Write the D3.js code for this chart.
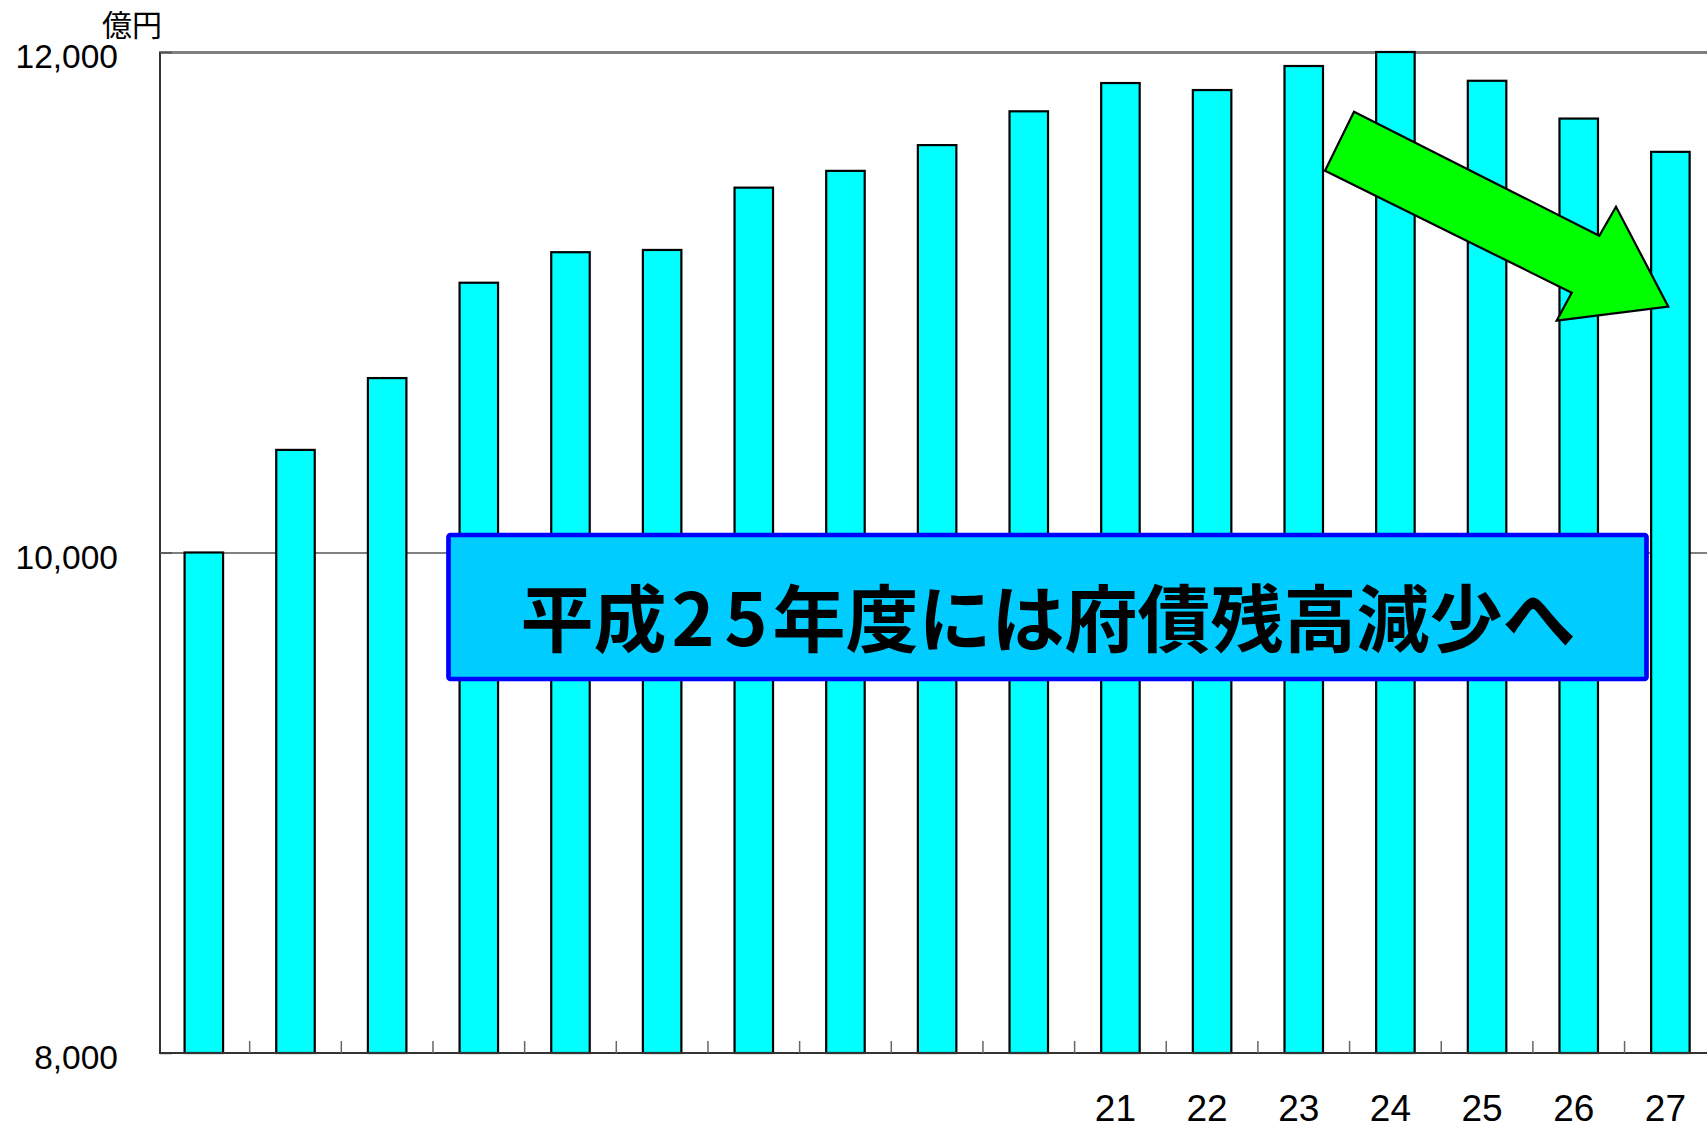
<!DOCTYPE html>
<html lang="ja">
<head>
<meta charset="utf-8">
<script src="https://cdn.jsdelivr.net/npm/d3@7"></script>
<style>
  html, body { margin: 0; padding: 0; background: #fff; }
  svg { display: block; }
</style>
</head>
<body>
<svg id="chart" width="1707" height="1125"></svg>
<script>
// 府債残高（億円）平成11〜27年度
const categories = ['11', '12', '13', '14', '15', '16', '17', '18', '19', '20', '21', '22', '23', '24', '25', '26', '27'];
const tickLabels = ['', '', '', '', '', '', '', '', '', '', '21', '22', '23', '24', '25', '26', '27'];
const balances = [10000, 10410, 10697, 11078, 11200, 11209, 11458, 11525, 11628, 11763, 11876, 11848, 11944, 12000, 11885, 11734, 11601];
const yTicks = [8000, 10000, 12000];
const unitLabel = '億円';
// message split so the year digits can be set narrow, as in the original
const messageParts = [
  { text: '平成', dx: 0 },
  { text: '2', dx: 5 },
  { text: '5', dx: 10 },
  { text: '年度には府債残高減少へ', dx: 5 },
];

const width = 1707;
const plot = { left: 158, top: 52, bottom: 1053, step: 91.66 };

const svg = d3.select('#chart');

const x = d3.scaleBand()
  .domain(categories)
  .range([plot.left, plot.left + plot.step * categories.length]);

const y = d3.scaleLinear()
  .domain([8000, 12000])
  .range([plot.bottom, plot.top]);

const barWidth = x.bandwidth() * 0.42;

/*
Horizontal grid lines, drawn first so that the bars cover them.
*/
const grid = svg.append('g')
  .attr('transform', `translate(${plot.left + 1},0)`)
  .call(d3.axisRight(y).tickValues(yTicks.slice(1)).tickSize(width - plot.left).tickFormat(''));

grid.select('path').attr('stroke-width', 0);
grid.selectAll('.tick line')
  .attr('stroke', '#808080')
  .attr('stroke-width', d => (d === 12000 ? 2.5 : 1.2))
  .attr('shape-rendering', 'crispEdges');

// bars
svg.append('g')
  .selectAll('rect')
  .data(balances)
  .join('rect')
  .attr('x', (d, i) => x(categories[i]) + (x.bandwidth() - barWidth) / 2)
  .attr('y', d => y(d))
  .attr('width', barWidth)
  .attr('height', d => y(8000) - y(d))
  .attr('fill', '#00ffff')
  .attr('stroke', '#000')
  .attr('stroke-width', 2.2);

/*
Left axis: short inward ticks, labels on the left.
*/
const axisY = svg.append('g')
  .attr('transform', 'translate(160,0)')
  .call(d3.axisLeft(y).tickValues(yTicks).tickSize(-12).tickPadding(42).tickFormat(d3.format(',')));

axisY.select('path')
  .attr('d', `M0,${plot.top}V${plot.bottom}`)
  .attr('stroke', '#333')
  .attr('stroke-width', 2);
axisY.selectAll('.tick line')
  .attr('stroke', '#555')
  .attr('stroke-width', 1.5);
axisY.selectAll('.tick text')
  .attr('dy', 15.5)
  .attr('fill', '#000')
  .style('font-family', '"Liberation Sans", Arial, sans-serif')
  .style('font-size', '33.5px');

/*
Bottom axis: ticks sit on the category boundaries, labels on the centres.
*/
const axisX = svg.append('g')
  .attr('transform', `translate(0,${plot.bottom})`)
  .call(d3.axisBottom(x).tickSize(0).tickPadding(0).tickFormat((d, i) => tickLabels[i]));

axisX.select('path')
  .attr('d', `M${plot.left + 1},0H${width}`)
  .attr('stroke', '#333')
  .attr('stroke-width', 2);
axisX.selectAll('.tick text')
  .attr('y', 68)
  .attr('dy', 0)
  .attr('dx', -5)
  .attr('fill', '#000')
  .style('font-family', '"Liberation Sans Narrow", "Arial Narrow", "Liberation Sans", sans-serif')
  .style('font-size', '37px');

axisX.append('g')
  .selectAll('line')
  .data(categories.slice(1))
  .join('line')
  .attr('x1', d => x(d))
  .attr('x2', d => x(d))
  .attr('y1', 0)
  .attr('y2', -12)
  .attr('stroke', '#666')
  .attr('stroke-width', 1.5);

// unit
svg.append('text')
  .attr('x', 132)
  .attr('y', 23)
  .attr('text-anchor', 'middle')
  .attr('dominant-baseline', 'central')
  .style('font-family', '"Noto Sans CJK JP", sans-serif')
  .style('font-size', '30px')
  .text(unitLabel);

/*
Annotations: downward arrow over the last bars and the message box.
*/
const arrowPoints = [
  [1354, 111.7], [1599.3, 235.7], [1616, 206.7], [1668.3, 306.7],
  [1556.7, 320.7], [1571.7, 292.7], [1325, 170.7],
];

svg.append('polygon')
  .attr('points', arrowPoints.map(p => p.join(',')).join(' '))
  .attr('fill', '#00ff00')
  .attr('stroke', '#000')
  .attr('stroke-width', 2.2)
  .attr('stroke-linejoin', 'miter');

const box = svg.append('g');
box.append('rect')
  .attr('x', 448.5)
  .attr('y', 535)
  .attr('width', 1198)
  .attr('height', 144)
  .attr('rx', 2)
  .attr('fill', '#00ccff')
  .attr('stroke', '#0000ff')
  .attr('stroke-width', 4.7);

box.append('text')
  .attr('x', 1048)
  .attr('y', 613.5)
  .attr('text-anchor', 'middle')
  .attr('dominant-baseline', 'central')
  .style('font-family', '"Noto Sans CJK JP", sans-serif')
  .style('font-weight', 700)
  .style('font-size', '73px')
  .selectAll('tspan')
  .data(messageParts)
  .join('tspan')
  .attr('dx', d => d.dx)
  .text(d => d.text);
</script>
</body>
</html>
